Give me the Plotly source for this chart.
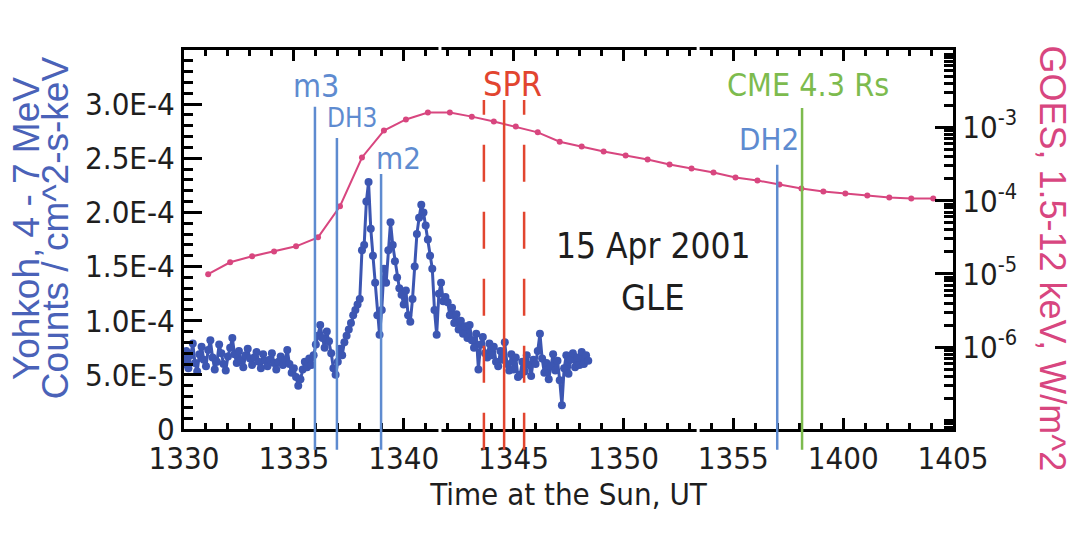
import plotly.graph_objects as go

# ---------------- data ----------------
x_tick_minutes = [0, 5, 10, 15, 20, 25, 30, 35]
x_tick_labels = ["1330", "1335", "1340", "1345", "1350", "1355", "1400", "1405"]
x_axis_breaks = [11.65, 23.4]   # small gaps visible in the top/bottom frame

y_tick_values = [0, 5e-5, 1e-4, 1.5e-4, 2e-4, 2.5e-4, 3e-4]
y_tick_labels = ["0", "5.0E-5", "1.0E-4", "1.5E-4", "2.0E-4", "2.5E-4", "3.0E-4"]

y2_tick_values = [1e-6, 1e-5, 1e-4, 1e-3]
y2_tick_labels = ["10<sup>-6</sup>", "10<sup>-5</sup>", "10<sup>-4</sup>", "10<sup>-3</sup>"]

# Yohkoh 4-7 MeV counts (units of 1e-5), sampled every 0.1 min from 13:30
yohkoh_step_min = 0.1
yohkoh_e5 = [
    6.0, 7.2, 5.6, 6.8, 7.9, 6.1, 5.3, 6.9, 7.6, 6.4,
    5.8, 7.3, 8.2, 6.6, 5.5, 6.2, 7.8, 7.0, 6.0, 5.4,
    6.7, 7.5, 8.4, 6.9, 6.1, 7.2, 6.3, 5.7, 6.8, 7.4,
    6.5, 5.9, 6.6, 7.1, 6.2, 5.6, 6.9, 6.3, 5.8, 6.4,
    7.0, 6.1, 5.5, 6.2, 6.7, 5.9, 6.4, 7.3, 6.0, 5.2,
    5.6, 4.8, 4.0, 4.6, 5.5, 6.2, 5.7, 6.5, 5.9, 6.8,
    7.8, 8.6, 9.6, 8.4, 7.5, 9.0, 8.1, 7.0, 5.6, 5.0,
    6.2, 7.4, 6.8, 8.0, 8.6, 9.2, 9.8, 10.5, 11.0, 11.5,
    12.0, 16.5, 17.0, 21.0, 22.8, 18.5, 16.0, 13.5, 10.5, 8.7,
    11.0, 14.8, 13.5, 16.5, 19.1, 17.0, 15.5, 14.0, 13.0, 12.4,
    11.5, 12.8, 10.5, 9.9, 12.0, 15.0, 18.0, 19.5, 20.7, 20.0,
    18.8, 17.5, 16.0, 14.8, 11.0, 8.7, 12.5, 13.5, 11.8, 12.2,
    11.7, 10.5, 11.2, 9.8, 10.6, 9.2, 10.0, 8.8, 9.5, 8.4,
    9.6, 8.2, 7.5, 8.8, 5.5, 7.8, 8.5, 7.0, 6.6, 7.9,
    6.8, 7.6, 6.2, 5.8, 7.2, 6.4, 8.0, 6.0, 5.4, 6.9,
    5.5, 6.6, 4.8, 5.0, 6.2, 5.3, 6.8, 5.9, 4.9, 6.4,
    6.0, 7.2, 8.8, 6.5, 5.2, 6.1, 4.6, 5.8, 6.9, 5.4,
    6.3, 4.5, 2.2, 5.6, 6.8, 5.1, 6.4, 7.0, 5.7, 6.6,
    5.9, 7.1, 6.0, 6.8, 6.3,
]

# GOES 1.5-12 keV flux (W/m^2), minutes after 13:30
goes_minutes = [1.1, 2.1, 3.1, 4.1, 5.1, 6.1, 7.1, 8.1, 9.1, 10.1,
                11.1, 12.1, 13.1, 14.1, 15.1, 16.1, 17.1, 18.1, 19.1, 20.1,
                21.1, 22.1, 23.1, 24.1, 25.1, 26.1, 27.1, 28.1, 29.1, 30.1,
                31.1, 32.1, 33.1, 34.1]
goes_flux = [9.9e-6, 1.44e-5, 1.74e-5, 2.03e-5, 2.38e-5, 3.16e-5, 8.4e-5, 3.9e-4, 9.1e-4, 1.29e-3,
             1.60e-3, 1.60e-3, 1.41e-3, 1.21e-3, 1.03e-3, 8.6e-4, 6.4e-4, 5.5e-4, 4.7e-4, 4.15e-4,
             3.66e-4, 3.13e-4, 2.76e-4, 2.43e-4, 2.08e-4, 1.89e-4, 1.67e-4, 1.47e-4, 1.34e-4, 1.26e-4,
             1.18e-4, 1.11e-4, 1.07e-4, 1.07e-4]

# Event markers (minutes after 13:30)
event_names = ["m3", "DH3", "m2", "SPR-", "SPR", "SPR+", "DH2", "CME"]
event_minutes = [5.96, 6.96, 8.97, 13.65, 14.57, 15.48, 27.0, 28.13]

# ---------------- styling ----------------
NARROW = "Liberation Sans Narrow, Arial Narrow, DejaVu Sans Condensed, sans-serif"
REG = "Liberation Sans, Arial, sans-serif"
BLUE_DATA = "#3C56B2"
BLUE_EV = "#5E8BD0"
PINK = "#D8467F"
RED = "#E2452F"
GREEN = "#7DBB4E"
INK = "#1e1e1e"

ev_style = {
    "m3": dict(color=BLUE_EV, top=0.850, dash="solid"),
    "DH3": dict(color=BLUE_EV, top=0.768, dash="solid"),
    "m2": dict(color=BLUE_EV, top=0.673, dash="solid"),
    "SPR-": dict(color=RED, top=0.868, dash="37px,30px"),
    "SPR": dict(color=RED, top=0.868, dash="solid"),
    "SPR+": dict(color=RED, top=0.868, dash="37px,30px"),
    "DH2": dict(color=BLUE_EV, top=0.697, dash="solid"),
    "CME": dict(color=GREEN, top=0.847, dash="solid"),
}

yohkoh_t = [i * yohkoh_step_min for i in range(len(yohkoh_e5))]
yohkoh_v = [v * 1e-5 for v in yohkoh_e5]

fig = go.Figure()
fig.add_trace(go.Scatter(
    x=yohkoh_t, y=yohkoh_v, mode="lines+markers", name="Yohkoh",
    line=dict(color=BLUE_DATA, width=3),
    marker=dict(color=BLUE_DATA, size=8),
    xaxis="x", yaxis="y", showlegend=False))
fig.add_trace(go.Scatter(
    x=goes_minutes, y=goes_flux, mode="lines+markers", name="GOES",
    line=dict(color=PINK, width=2),
    marker=dict(color=PINK, size=6),
    xaxis="x", yaxis="y2", showlegend=False))

shapes = []
for name, t in zip(event_names, event_minutes):
    st = ev_style[name]
    shapes.append(dict(type="line", xref="x", yref="paper", x0=t, x1=t,
                       y0=-0.055, y1=st["top"], layer="above",
                       line=dict(color=st["color"], width=2.5, dash=st["dash"])))
# small white breaks in the top and bottom frame lines
for b in x_axis_breaks:
    for yb in (0.0, 1.0):
        shapes.append(dict(type="rect", xref="x", yref="paper", xsizemode="pixel", xanchor=b,
                           x0=-1.5, x1=1.5, y0=yb - 0.012, y1=yb + 0.012, layer="above",
                           fillcolor="white", line=dict(width=0)))

ann = []
def lab(text, x, y, color, size, xref="x", font=NARROW):
    ann.append(dict(text=text, x=x, y=y, xref=xref, yref="paper", showarrow=False,
                    xanchor="center", yanchor="middle",
                    font=dict(family=font, size=size, color=color)))

lab("m3", 6.0, 0.905, BLUE_EV, 32)
lab("DH3", 7.65, 0.82, BLUE_EV, 26)
lab("m2", 9.74, 0.715, BLUE_EV, 31)
lab("SPR", 14.93, 0.91, RED, 34)
lab("CME 4.3 Rs", 28.4, 0.908, GREEN, 32)
lab("DH2", 26.63, 0.765, BLUE_EV, 31)
lab("15 Apr 2001", 0.61, 0.483, INK, 35, xref="paper")
lab("GLE", 0.61, 0.348, INK, 36, xref="paper")

ann.append(dict(text="Yohkoh, 4 - 7 MeV", x=-0.2055, y=0.53, xref="paper", yref="paper",
                showarrow=False, textangle=-90, xanchor="center", yanchor="middle",
                font=dict(family=REG, size=37, color="#4A62B8")))
ann.append(dict(text="Counts / cm^2-s-keV", x=-0.1677, y=0.53, xref="paper", yref="paper",
                showarrow=False, textangle=-90, xanchor="center", yanchor="middle",
                font=dict(family=REG, size=37, color="#4A62B8")))
ann.append(dict(text="GOES, 1.5-12 keV, W/m^2", x=1.13, y=0.45, xref="paper", yref="paper",
                showarrow=False, textangle=90, xanchor="center", yanchor="middle",
                font=dict(family=REG, size=36, color=PINK)))

line_common = dict(showgrid=False, zeroline=False, showline=True, linecolor="black",
                   linewidth=3, tickcolor="black", tickwidth=3, ticks="inside")
tick_font = dict(family=NARROW, size=31, color=INK)

fig.update_layout(
    width=1073, height=534,
    margin=dict(l=184, r=120, t=50, b=105),
    paper_bgcolor="white", plot_bgcolor="white",
    shapes=shapes, annotations=ann,
    xaxis=dict(range=[0, 35], tickmode="array", tickvals=x_tick_minutes, ticktext=x_tick_labels,
               ticklen=11, mirror="ticks", tickfont=tick_font,
               minor=dict(ticks="inside", tickmode="linear", tick0=0, dtick=1, ticklen=6,
                          tickwidth=2.5, tickcolor="black", showgrid=False),
               title=dict(text="Time at the Sun, UT", standoff=6,
                          font=dict(family=NARROW, size=31, color=INK)),
               **line_common),
    yaxis=dict(range=[0, 3.5e-4], tickmode="array", tickvals=y_tick_values, ticktext=y_tick_labels,
               ticklen=18, side="left", anchor="x", tickfont=tick_font,
               minor=dict(ticks="inside", tickmode="linear", tick0=0, dtick=1e-5, ticklen=9,
                          tickwidth=2.5, tickcolor="black", showgrid=False),
               **line_common),
    yaxis2=dict(type="log", range=[-7.12, -1.94], overlaying="y", side="right", anchor="x",
                tickmode="array", tickvals=y2_tick_values, ticktext=y2_tick_labels,
                ticklen=18, tickfont=tick_font,
                minor=dict(ticks="inside", dtick="D1", ticklen=9,
                           tickwidth=2.5, tickcolor="black", showgrid=False),
                **line_common),
)

fig.write_html("out.html")
